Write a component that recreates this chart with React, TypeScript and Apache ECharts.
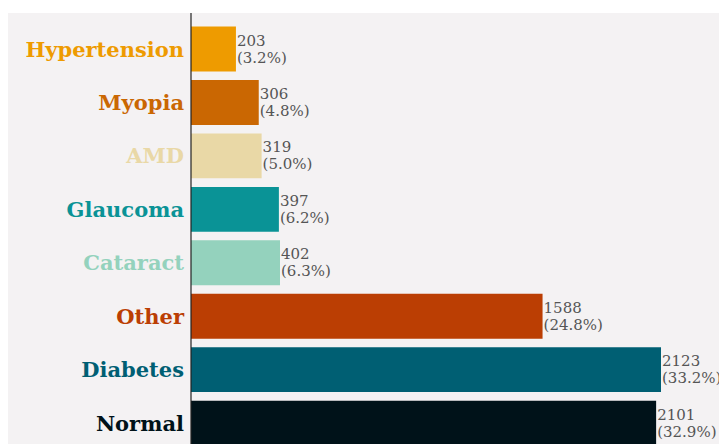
import React, { useEffect, useRef } from "react";
import * as echarts from "echarts";

const categories = ["Hypertension", "Myopia", "AMD", "Glaucoma", "Cataract", "Other", "Diabetes", "Normal"];
const counts = [203, 306, 319, 397, 402, 1588, 2123, 2101];
const pctLabels = ["3.2%", "4.8%", "5.0%", "6.2%", "6.3%", "24.8%", "33.2%", "32.9%"];
const colors = ["#ee9b00", "#ca6702", "#e9d8a6", "#0a9396", "#94d2bd", "#bb3e03", "#005f73", "#001219"];

export default function App() {
  const ref = useRef<HTMLDivElement>(null);
  useEffect(() => {
    if (!ref.current) return;
    const chart = echarts.init(ref.current, null, { renderer: "svg" });
    chart.setOption({
      animation: false,
      backgroundColor: "#ffffff",
      graphic: [
        { type: "rect", z: -10, shape: { x: 8, y: 13, width: 711, height: 450 }, style: { fill: "#f4f2f3" } },
        { type: "line", z: 10, shape: { x1: 191, y1: 13, x2: 191, y2: 460 }, style: { stroke: "#222", lineWidth: 1.2 } },
      ],
      grid: { left: 191, right: 0, top: 22.3, height: 427.5, containLabel: false },
      xAxis: {
        type: "value",
        min: 0,
        max: 2385,
        show: false,
      },
      yAxis: {
        type: "category",
        data: categories,
        inverse: true,
        axisLine: { show: false },
        axisTick: { show: false },
        axisLabel: {
          margin: 7,
          fontFamily: "DejaVu Serif",
          fontWeight: "bold",
          fontSize: 21,
          color: (_v: any, i: number) => colors[i],
        },
      },
      series: [
        {
          type: "bar",
          barCategoryGap: "16%",
          data: counts.map((v, i) => ({ value: v, itemStyle: { color: colors[i] } })),
          label: {
            show: true,
            position: "right",
            distance: 1,
            fontFamily: "DejaVu Serif",
            fontSize: 15,
            lineHeight: 17,
            color: "#555555",
            align: "left",
            formatter: (p: any) => `${counts[p.dataIndex]}\n(${pctLabels[p.dataIndex]})`,
          },
        },
      ],
    });
    return () => chart.dispose();
  }, []);
  return (
    <div
      ref={ref}
      style={{ position: "fixed", left: 0, top: 0, width: 719, height: 470 }}
    />
  );
}
